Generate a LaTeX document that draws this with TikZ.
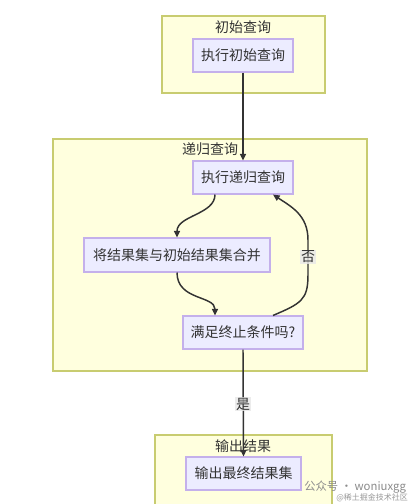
\documentclass[tikz,border=0pt]{standalone}
\usepackage{fontspec}
\setmainfont{Noto Sans CJK SC}
\usetikzlibrary{arrows.meta,calc}
\definecolor{clfill}{HTML}{FFFFDE}
\definecolor{cldraw}{HTML}{C8CC70}
\definecolor{ndfill}{HTML}{ECECFF}
\definecolor{nddraw}{HTML}{9370DB}
\definecolor{txt}{HTML}{333333}
\definecolor{lbl}{HTML}{E8E8E8}
\tikzset{
  cluster/.style={draw=cldraw, fill=clfill, line width=0.9pt},
  proc/.style={draw=nddraw!55, fill=ndfill, line width=0.8pt, text=txt, inner sep=0pt, font=\fontsize{10.5}{12}\selectfont},
  title/.style={text=txt, inner sep=1pt, font=\fontsize{10.5}{12}\selectfont},
  flow/.style={draw=txt, line width=1.1pt, -{Triangle[length=5pt,width=4.5pt]}},
  elabel/.style={fill=lbl, fill opacity=0.8, text opacity=1, text=txt, inner sep=1pt, font=\fontsize{10.5}{12}\selectfont},
}
\begin{document}
\begin{tikzpicture}[x=0.75pt,y=-0.75pt]
\useasboundingbox (0,0) rectangle (417,504);
\fill[white] (0,0) rectangle (417,504);
% clusters
\draw[cluster] (162,16) rectangle (325,93);
\node[title] (t1) at (243,27) {初始查询};
\draw[cluster] (53,139) rectangle (367,371);
\node[title] (t2) at (210,149) {递归查询};
\draw[cluster] (155,435) rectangle (332,506);
\node[title] (t3) at (243,446) {输出结果};
% nodes
\node[proc, minimum width=100*0.75pt, minimum height=33*0.75pt] (init) at (243,55.5) {执行初始查询};
\node[proc, minimum width=100*0.75pt, minimum height=33*0.75pt] (rec) at (243,177.5) {执行递归查询};
\node[proc, minimum width=186*0.75pt, minimum height=34*0.75pt] (merge) at (177,255) {将结果集与初始结果集合并};
\node[proc, minimum width=120*0.75pt, minimum height=33*0.75pt] (cond) at (243,332.5) {满足终止条件吗?};
\node[proc, minimum width=115*0.75pt, minimum height=33*0.75pt] (out) at (243.5,473.5) {输出最终结果集};
% edges
\draw[flow] (init.south) -- (rec.north);
\draw[flow] ($(rec.south)+(-28,0)$) .. controls ($(rec.south)+(-28,20)$) and ($(merge.north)+(0,-22)$) .. (merge.north);
\draw[flow] (merge.south) .. controls ($(merge.south)+(0,28)$) and ($(cond.north)+(-28,-20)$) .. ($(cond.north)+(-28,0)$);
\draw[flow] ($(cond.north)+(30,0)$) .. controls ($(cond.north)+(58,-12)$) and (308,300) .. (308,275)
  -- (308,240) .. controls (308,215) and ($(rec.south)+(48,12)$) .. ($(rec.south)+(30,0)$);
\node[elabel] (no) at (308,257) {否};
\draw[flow] (cond.south) -- (out.north);
\node[elabel] (yes) at (243,404) {是};
% watermark
\node[text=black!45, inner sep=0pt, anchor=west, font=\fontsize{8.5}{10}\selectfont] (wm1) at (304,487) {公众号 · woniuxgg};
\node[text=black!40, inner sep=0pt, anchor=west, font=\fontsize{6}{7}\selectfont] (wm2) at (336,498) {@稀土掘金技术社区};
\end{tikzpicture}
\end{document}
